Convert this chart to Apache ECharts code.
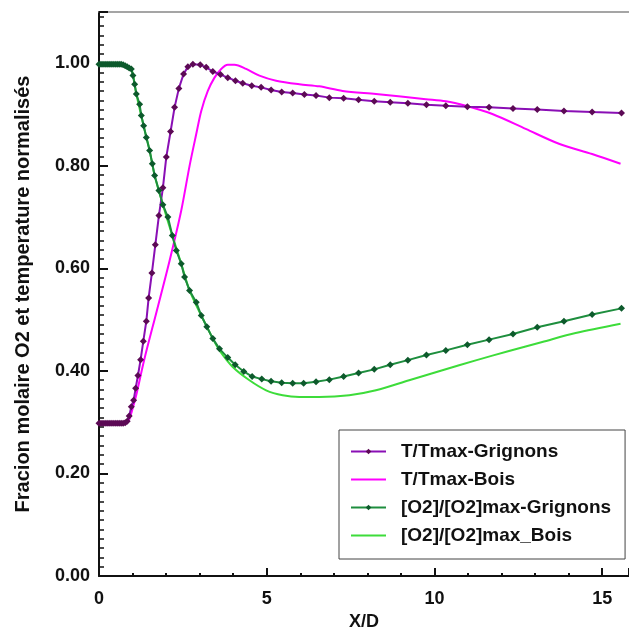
<!DOCTYPE html>
<html>
<head>
<meta charset="utf-8">
<script src="https://cdn.jsdelivr.net/npm/echarts@6/dist/echarts.min.js"></script>
<style>html,body{margin:0;padding:0;background:#fff}#c{width:629px;height:629px}</style>
</head>
<body>
<div id="c"></div>
<script>
var tGrignons = [
  [0,0.298],[0.06,0.298],[0.12,0.298],[0.18,0.298],[0.24,0.298],[0.30,0.298],[0.36,0.298],[0.42,0.298],[0.48,0.298],[0.54,0.298],[0.60,0.298],[0.66,0.298],[0.72,0.298],[0.78,0.299],[0.84,0.302],[0.90,0.312],
  [0.964,0.330],[1.033,0.343],[1.092,0.366],[1.161,0.391],[1.241,0.422],[1.321,0.458],[1.411,0.497],[1.479,0.542],[1.577,0.591],
  [1.679,0.646],[1.786,0.703],[1.905,0.757],[2.006,0.817],[2.134,0.867],[2.253,0.914],[2.381,0.951],[2.521,0.979],[2.649,0.993],
  [2.798,0.998],[3.018,0.997],[3.196,0.992],[3.393,0.984],[3.622,0.978],[3.839,0.972],[4.068,0.966],[4.286,0.961],[4.554,0.956],
  [4.833,0.953],[5.131,0.948],[5.446,0.944],[5.774,0.942],[6.122,0.939],[6.47,0.937],[6.866,0.933],[7.292,0.932],[7.738,0.929],
  [8.205,0.926],[8.682,0.924],[9.208,0.922],[9.762,0.919],[10.339,0.917],[10.982,0.915],[11.628,0.914],[12.342,0.912],
  [13.065,0.910],[13.86,0.907],[14.70,0.905],[15.577,0.903]
];
var tBois = [
  [0,0.298],[0.815,0.298],[0.90,0.305],[0.964,0.318],[1.10,0.350],[1.345,0.421],[1.726,0.518],[2.104,0.615],[2.452,0.713],
  [2.70,0.800],[2.899,0.862],[3.048,0.907],[3.244,0.946],[3.443,0.972],[3.643,0.989],[3.839,0.997],[4.039,0.997],[4.387,0.989],
  [4.783,0.976],[5.28,0.966],[5.973,0.959],[6.568,0.955],[7.262,0.946],[8.256,0.940],[9.744,0.930],[10.339,0.926],[10.934,0.917],
  [11.726,0.901],[12.72,0.872],[13.711,0.843],[14.70,0.823],[15.548,0.804]
];
var o2Grignons = [
  [0,0.998],[0.06,0.998],[0.12,0.998],[0.18,0.998],[0.24,0.998],[0.30,0.998],[0.36,0.998],[0.42,0.998],[0.48,0.998],[0.54,0.998],[0.60,0.998],[0.66,0.998],[0.72,0.997],[0.78,0.995],[0.84,0.993],[0.90,0.991],
  [0.964,0.989],[1.012,0.976],[1.063,0.959],[1.113,0.940],[1.211,0.920],[1.262,0.898],[1.330,0.878],[1.411,0.855],[1.509,0.830],
  [1.589,0.804],[1.658,0.781],[1.786,0.752],[1.905,0.724],[2.054,0.700],[2.185,0.664],[2.304,0.635],[2.452,0.609],[2.551,0.583],
  [2.699,0.557],[2.899,0.534],[3.048,0.508],[3.214,0.486],[3.393,0.463],[3.592,0.443],[3.839,0.426],[4.06,0.412],[4.315,0.399],
  [4.565,0.389],[4.851,0.384],[5.13,0.380],[5.446,0.377],[5.774,0.376],[6.10,0.376],[6.47,0.379],[6.866,0.383],[7.292,0.389],
  [7.738,0.396],[8.205,0.403],[8.682,0.412],[9.208,0.421],[9.762,0.431],[10.339,0.440],[10.982,0.451],[11.628,0.461],
  [12.342,0.472],[13.065,0.485],[13.86,0.497],[14.70,0.510],[15.577,0.522]
];
var o2Bois = [
  [0,0.998],[0.78,0.995],[0.964,0.989],[1.113,0.940],[1.330,0.878],[1.509,0.830],[1.658,0.781],[1.905,0.724],[2.185,0.664],
  [2.452,0.609],[2.699,0.557],[3.048,0.508],[3.393,0.463],[3.592,0.440],[3.988,0.4076],[4.485,0.3817],[4.982,0.3622],
  [5.476,0.3525],[5.973,0.3492],[6.568,0.3492],[7.461,0.3525],[8.256,0.3622],[9.247,0.3817],[10.238,0.4012],[11.232,0.4206],
  [12.223,0.4387],[13.214,0.4563],[14.208,0.4738],[15.548,0.4921]
];
var seriesNames = ['T/Tmax-Grignons','T/Tmax-Bois','[O2]/[O2]max-Grignons','[O2]/[O2]max_Bois'];
var xTicks = [0,5,10,15];
var yTicks = ['0.00','0.20','0.40','0.60','0.80','1.00'];

var chart = echarts.init(document.getElementById('c'));
var fontFam = 'Liberation Sans, Arial, sans-serif';
chart.setOption({
  animation: false,
  grid: {left: 99, right: 0, top: 12, bottom: 53, containLabel: false, outerBoundsMode: 'none'},
  legend: {
    orient: 'vertical', left: 339, top: 430,
    backgroundColor: '#fff', borderColor: '#444', borderWidth: 1,
    padding: [12, 14, 14, 11], itemGap: 9, itemWidth: 35, itemHeight: 7,
    textStyle: {fontFamily: fontFam, fontSize: 19, fontWeight: 'bold', color: '#111', padding: [0,0,0,10]},
    data: [
      {name: seriesNames[0]},
      {name: seriesNames[1], itemStyle: {opacity: 0}},
      {name: seriesNames[2]},
      {name: seriesNames[3], itemStyle: {opacity: 0}}
    ]
  },
  xAxis: [{
    type: 'value', min: 0, max: 15.8, interval: 5,
    name: 'X/D', nameLocation: 'middle', nameGap: 36,
    nameTextStyle: {fontFamily: fontFam, fontSize: 18, fontWeight: 'bold', color: '#111'},
    axisLine: {lineStyle: {color: '#111', width: 2}},
    axisTick: {inside: true, length: 8, lineStyle: {color: '#111', width: 2}},
    minorTick: {show: true, splitNumber: 5, length: 3, lineStyle: {color: '#111', width: 2}},
    splitLine: {show: false},
    axisLabel: {fontFamily: fontFam, fontSize: 18, fontWeight: 'bold', color: '#111', margin: 14,
      formatter: function (v) { return xTicks.indexOf(v) >= 0 ? String(v) : ''; }, showMaxLabel: false}
  }, {
    type: 'value', min: 0, max: 15.8, position: 'top',
    axisLine: {show: true, lineStyle: {color: '#888', width: 1.5}},
    axisTick: {show: false}, axisLabel: {show: false}, splitLine: {show: false}
  }],
  yAxis: {
    type: 'value', min: 0, max: 1.1, interval: 0.2,
    name: 'Fracion molaire O2 et temperature normalisés', nameLocation: 'middle', nameGap: 66,
    nameTextStyle: {fontFamily: fontFam, fontSize: 20, fontWeight: 'bold', color: '#111'},
    axisLine: {show: true, lineStyle: {color: '#111', width: 2}},
    axisTick: {inside: true, length: 9, lineStyle: {color: '#111', width: 2}},
    minorTick: {show: true, splitNumber: 11, length: 5, lineStyle: {color: '#111', width: 1.5}},
    splitLine: {show: false},
    axisLabel: {fontFamily: fontFam, fontSize: 18, fontWeight: 'bold', color: '#111', margin: 9,
      formatter: function (v) { var s = v.toFixed(2); return yTicks.indexOf(s) >= 0 ? s : ''; }, showMaxLabel: false}
  },
  series: [
    {name: seriesNames[0], type: 'line', data: tGrignons, symbol: 'diamond', symbolSize: 7, showSymbol: true,
      lineStyle: {color: '#8a0fb5', width: 2}, itemStyle: {color: '#5c0a55', borderWidth: 0}, z: 4},
    {name: seriesNames[1], type: 'line', data: tBois, symbol: 'none', smooth: 0.3,
      lineStyle: {color: '#ff00ff', width: 2}, itemStyle: {color: '#ff00ff'}, z: 3},
    {name: seriesNames[2], type: 'line', data: o2Grignons, symbol: 'diamond', symbolSize: 7,
      lineStyle: {color: '#1e8e3e', width: 2}, itemStyle: {color: '#0d5a2c', borderWidth: 0}, z: 4},
    {name: seriesNames[3], type: 'line', data: o2Bois, symbol: 'none', smooth: 0.3,
      lineStyle: {color: '#3ddc3a', width: 2}, itemStyle: {color: '#3ddc3a'}, z: 2}
  ]
});
</script>
</body>
</html>
